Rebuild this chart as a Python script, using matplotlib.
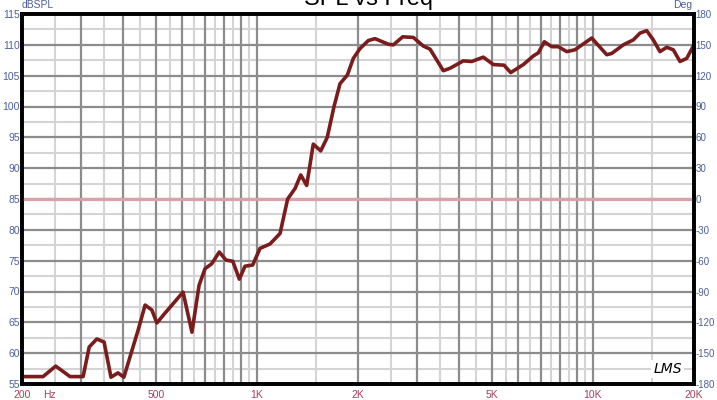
import numpy as np
import matplotlib
matplotlib.use("Agg")
import matplotlib.pyplot as plt

# Respuesta en frecuencia (SPL)
freq_hz = [200, 231, 252, 278, 304, 317, 334, 351, 368, 386, 402, 443, 465, 487,
           504, 533, 603, 641, 673, 701, 734, 773, 809, 848, 887, 922, 972, 1022,
           1094, 1172, 1235, 1299, 1351, 1407, 1472, 1549, 1620, 1697, 1768, 1859,
           1937, 2028, 2147, 2247, 2462, 2548, 2717, 2922, 3130, 3277, 3589, 3758,
           4116, 4360, 4721, 5057, 5440, 5696, 6211, 6651, 6882, 7171, 7545, 7893,
           8361, 8849, 9923, 10998, 11378, 12320, 13194, 13816, 14464, 15132,
           15840, 16586, 17355, 18168, 19024, 20000]
spl_db = [56.2, 56.2, 57.9, 56.2, 56.2, 61.0, 62.3, 61.8, 56.1, 56.8, 56.1, 63.7,
          67.8, 67.0, 64.9, 66.5, 69.9, 63.4, 71.0, 73.7, 74.5, 76.4, 75.1, 74.9,
          72.0, 74.1, 74.3, 77.0, 77.7, 79.4, 85.0, 86.7, 88.9, 87.2, 93.9, 92.8,
          95.0, 100.0, 103.7, 105.1, 107.8, 109.4, 110.7, 111.0, 110.1, 110.0,
          111.3, 111.2, 109.8, 109.3, 105.8, 106.2, 107.4, 107.3, 108.0, 106.8,
          106.7, 105.5, 106.8, 108.2, 108.7, 110.5, 109.7, 109.7, 108.9, 109.2,
          111.1, 108.4, 108.6, 110.0, 110.8, 111.9, 112.3, 110.8, 108.9, 109.6,
          109.2, 107.3, 107.8, 110.0]

# Fase (traza plana en 0 grados)
phase_freq = [200, 20000]
phase_deg = [0, 0]

# Etiquetas de los ejes
x_ticks = [200, 500, 1000, 2000, 5000, 10000, 20000]
x_labels = ["200", "500", "1K", "2K", "5K", "10K", "20K"]
y_ticks = list(range(55, 116, 5))
deg_ticks = list(range(-180, 181, 30))

plt.rcParams['font.family'] = ['Liberation Sans', 'DejaVu Sans']
plt.rcParams['axes.unicode_minus'] = False

fig = plt.figure(figsize=(7.17, 4.0), dpi=100)
ax = fig.add_axes([22/717, 16/400, 672/717, 370/400])
ax.set_xscale("log")
ax.set_xlim(200, 20000)
ax.set_ylim(55, 115)

ax2 = ax.twinx()
ax2.set_ylim(-180, 180)

# Grilla: mayores y menores
gris_osc = "#8c8c8c"
gris_cla = "#d4d4d4"
maj_x = list(range(300, 1001, 100)) + list(range(2000, 10001, 1000))
min_x = list(range(250, 1000, 100)) + list(range(1500, 10000, 1000)) + [15000]
for f in min_x:
    ax.axvline(f, color=gris_cla, lw=1.5, zorder=1)
for f in maj_x:
    ax.axvline(f, color=gris_osc, lw=1.6, zorder=2)
for v in np.arange(57.5, 115, 5):
    ax.axhline(v, color=gris_cla, lw=1.5, zorder=1)
for v in range(60, 115, 5):
    ax.axhline(v, color=gris_osc, lw=1.6, zorder=2)

ax.set_xticks(x_ticks)
ax.set_xticklabels(x_labels)
ax.xaxis.set_minor_locator(matplotlib.ticker.NullLocator())
ax.set_yticks(y_ticks)
ax.tick_params(axis='x', length=0, pad=4, labelsize=7.5, labelcolor="#a3415d")
ax.tick_params(axis='y', length=0, pad=1.5, labelsize=7.5, labelcolor="#4d5f9c")
ax2.set_yticks(deg_ticks)
ax2.tick_params(axis='y', length=0, pad=1.2, labelsize=7, labelcolor="#4d5f9c")

# Trazas (fase en eje derecho, SPL en escala del eje izquierdo)
ax2.plot(phase_freq, phase_deg, color="#d9a2a8", lw=2.3, zorder=3)
ax2.plot(freq_hz, spl_db, transform=ax.transData, color="#7b1c1c", lw=2.6,
         solid_joinstyle='round', zorder=4)

for a in (ax, ax2):
    for s in a.spines.values():
        s.set_linewidth(2.6)
        s.set_color("black")
        s.set_zorder(10)

# Textos
fig.text(22/717, 1 - 8/400, "dBSPL", fontsize=7.5, color="#4d5f9c", va='baseline', ha='left')
fig.text(692/717, 1 - 8/400, "Deg", fontsize=7.5, color="#4d5f9c", va='baseline', ha='right')
fig.text(368/717, 1 - 5/400, "SPL vs Freq", fontsize=17, color="black", va='baseline', ha='center')
ax.annotate("Hz", xy=(231, 0), xycoords=('data', 'axes fraction'), xytext=(0, -4),
            textcoords='offset points', ha='left', va='top', fontsize=7.5, color="#a3415d")
ax2.text(0.961, 0.04, "LMS", transform=ax.transAxes, fontsize=10, style='italic',
         family='DejaVu Sans', color='black', ha='center', va='center', zorder=5,
         bbox=dict(facecolor='white', edgecolor='none', pad=1.5))

fig.savefig("out.png", dpi=100)
